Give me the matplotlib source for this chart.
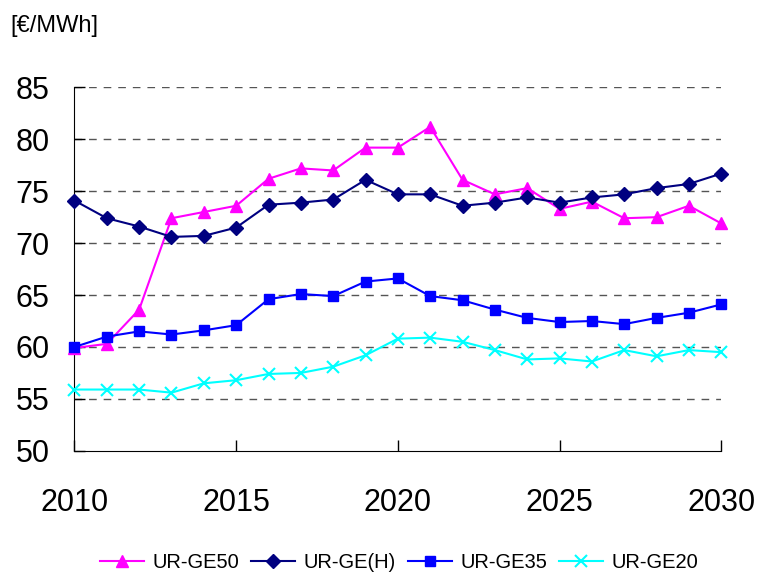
import matplotlib
matplotlib.use("Agg")
import matplotlib.pyplot as plt

plt.rcParams["font.family"] = ["Liberation Sans", "DejaVu Sans"]

# ─── DATA ───────────────────────────────────────────────────────────────────
years = list(range(2010, 2031))

ur_ge50 = [59.9, 60.3, 63.6, 72.4, 73.0, 73.6, 76.2, 77.2, 77.0, 79.2, 79.2,
           81.2, 76.1, 74.7, 75.3, 73.3, 74.0, 72.4, 72.5, 73.6, 71.9]
ur_ge_h = [74.1, 72.4, 71.6, 70.6, 70.7, 71.5, 73.7, 73.9, 74.2, 76.1, 74.7,
           74.7, 73.6, 73.9, 74.4, 73.9, 74.4, 74.7, 75.3, 75.7, 76.7]
ur_ge35 = [60.0, 61.0, 61.5, 61.2, 61.6, 62.1, 64.6, 65.1, 64.9, 66.3, 66.6,
           64.9, 64.5, 63.6, 62.8, 62.4, 62.5, 62.2, 62.8, 63.3, 64.1]
ur_ge20 = [55.9, 55.9, 55.9, 55.6, 56.5, 56.8, 57.4, 57.5, 58.1, 59.2, 60.8,
           60.9, 60.5, 59.7, 58.8, 58.9, 58.6, 59.7, 59.1, 59.7, 59.5]

labels = ["UR-GE50", "UR-GE(H)", "UR-GE35", "UR-GE20"]
y_ticks = [50, 55, 60, 65, 70, 75, 80, 85]
x_ticks = [2010, 2015, 2020, 2025, 2030]

# ─── PLOT ───────────────────────────────────────────────────────────────────
fig = plt.figure(figsize=(7.6, 5.75), dpi=100)
ax = fig.add_axes([0.098, 0.216, 0.851, 0.632])

ax.plot(years, ur_ge50, color="#ff00ff", marker="^", markersize=9,
        linewidth=1.5, label=labels[0], clip_on=False, zorder=3)
ax.plot(years, ur_ge_h, color="#000080", marker="D", markersize=7,
        linewidth=1.5, label=labels[1], clip_on=False, zorder=3)
ax.plot(years, ur_ge35, color="#0000ff", marker="s", markersize=7,
        linewidth=1.5, label=labels[2], clip_on=False, zorder=3)
ax.plot(years, ur_ge20, color="#00ffff", marker="x", markersize=9,
        markeredgewidth=1.5, linewidth=1.5, label=labels[3], clip_on=False, zorder=3)

ax.set_xlim(2010, 2030)
ax.set_ylim(50, 85)
ax.set_xticks(x_ticks)
ax.set_yticks(y_ticks)
ax.tick_params(axis="both", labelsize=22, length=8, width=1, direction="in")
ax.tick_params(axis="x", pad=27)
ax.tick_params(axis="y", pad=18)

for v in y_ticks[1:]:
    ax.axhline(v, color="#555555", linestyle=(0, (5.5, 5)), linewidth=1, zorder=1)

for side in ["top", "right"]:
    ax.spines[side].set_visible(False)

fig.text(0.013, 0.955, "[€/MWh]", fontsize=17, va="center", ha="left")

ax.legend(loc="center", bbox_to_anchor=(0.525, 0.022), bbox_transform=fig.transFigure,
          ncol=4, frameon=False, fontsize=14.5, handlelength=2.2,
          columnspacing=0.6, handletextpad=0.4)

fig.savefig("out.png", dpi=100)
